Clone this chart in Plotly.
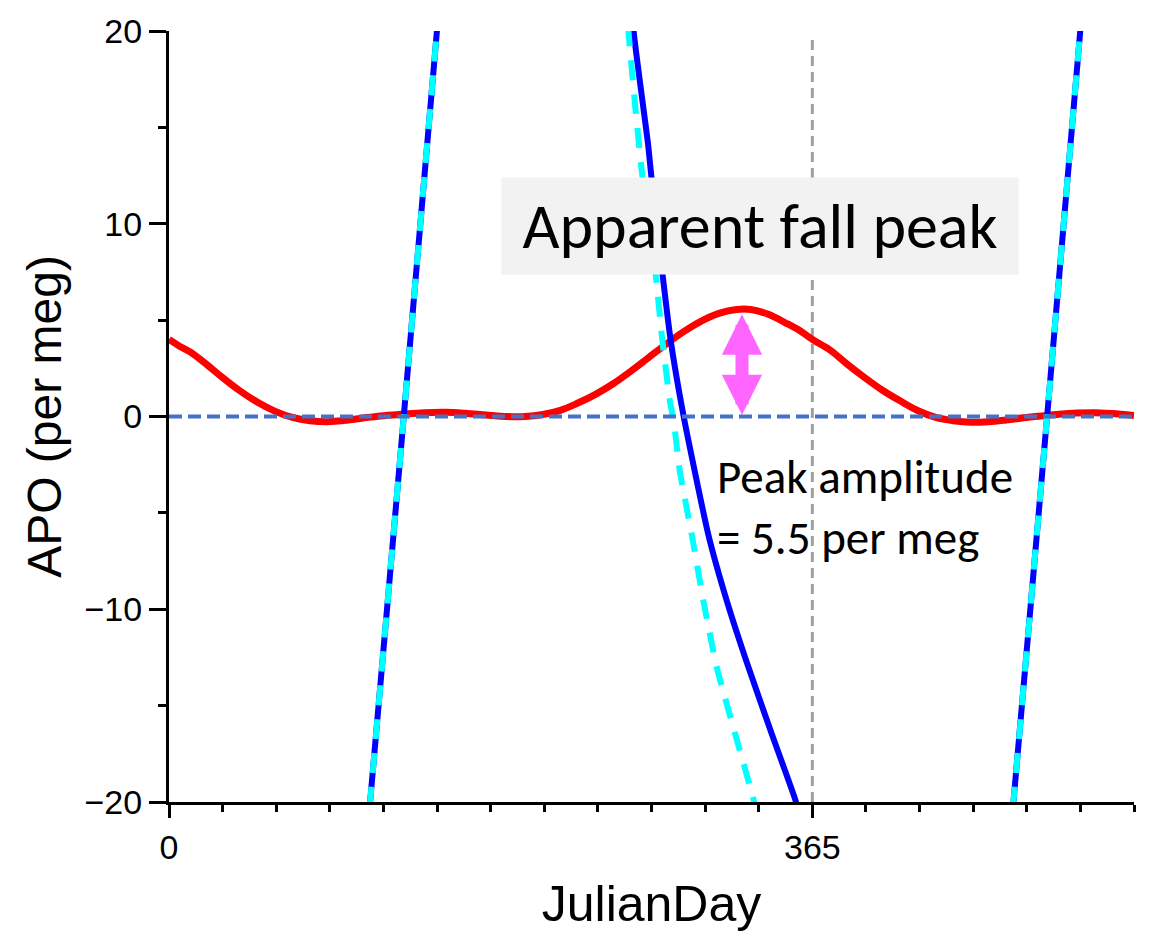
import plotly.graph_objects as go

# ---------------- data ----------------
# Red: APO seasonal signal (per meg) vs Julian day
red_day = [0, 6, 12, 20, 30, 40, 50, 60, 70, 80, 90, 100, 110, 120, 132, 145, 157, 168,
           180, 192, 202, 212, 222, 232, 242, 252, 262, 272, 282, 292, 302, 312, 322,
           330, 340, 350, 358, 365, 375, 385, 395, 405, 415, 425, 435, 445, 455, 465,
           475, 485, 495, 505, 515, 525, 535, 547.5]
red_apo = [4.0, 3.65, 3.35, 2.8, 2.05, 1.35, 0.75, 0.28, -0.05, -0.22, -0.27, -0.2,
           -0.08, 0.03, 0.12, 0.2, 0.22, 0.17, 0.08, 0.0, 0.0, 0.1, 0.32, 0.7, 1.15,
           1.7, 2.35, 3.05, 3.75, 4.4, 4.95, 5.35, 5.55, 5.55, 5.3, 4.85, 4.45, 4.0,
           3.45, 2.7, 2.0, 1.35, 0.8, 0.3, -0.05, -0.22, -0.3, -0.27, -0.18, -0.07,
           0.03, 0.12, 0.18, 0.2, 0.15, 0.05]

# Blue solid: large-amplitude component (three visible segments, gaps = None)
blue_day = [112.0, 114.1, 133.2, 152.0, 153.9, None,
            262.5, 263.6, 271.9, 274.0, 284.4, 292.0, 306.1, 316.6, 328.9, 342.1, 355.4, 358.5, None,
            477.0, 479.1, 498.2, 517.0, 518.9]
blue_apo = [-22, -20, 0, 20, 22, None,
            22, 20, 14.05, 12.15, 4.1, 0, -6.17, -9.6, -13.05, -16.5, -19.9, -21, None,
            -22, -20, 0, 20, 22]

# Cyan dashed: comparison component
cyan_day = [112.0, 114.1, 133.2, 152.0, 153.9, None,
            260.0, 260.7, 264.5, 268.3, 276.3, 279.7, 284.4, 286.3, 289.7, 296.7, 303.3,
            310.9, 321.3, 331.7, 334.0, None,
            477.0, 479.1, 498.2, 517.0, 518.9]
cyan_apo = [-22, -20, 0, 20, 22, None,
            22, 20, 16.1, 12.67, 7.2, 4.1, 0.67, -0.19, -2.76, -6.19, -9.62,
            -13.05, -16.5, -19.9, -21, None,
            -22, -20, 0, 20, 22]

x_tick_vals = [0, 365]
x_tick_text = ["0", "365"]
y_tick_vals = [-20, -10, 0, 10, 20]
x_range = [0, 547.5]
y_range = [-20, 20]

year_day = 365
vline_top = 19.7
peak_day = 325.1
peak_amp = 5.3

# ---------------- figure ----------------
fig = go.Figure()

fig.add_trace(go.Scatter(x=red_day, y=red_apo, mode="lines",
                         line=dict(color="#ff0000", width=7, shape="spline", smoothing=1.0),
                         showlegend=False, hoverinfo="skip"))
fig.add_trace(go.Scatter(x=blue_day, y=blue_apo, mode="lines",
                         line=dict(color="#0000ff", width=6, shape="spline", smoothing=0.5),
                         connectgaps=False, showlegend=False, hoverinfo="skip"))
fig.add_trace(go.Scatter(x=cyan_day, y=cyan_apo, mode="lines",
                         line=dict(color="#00ffff", width=6, dash="20px,14px",
                                   shape="spline", smoothing=0.5),
                         connectgaps=False, showlegend=False, hoverinfo="skip"))

# vertical gray dashed line at one year
fig.add_shape(type="line", xref="x", yref="y", x0=year_day, x1=year_day,
              y0=y_range[0], y1=vline_top, layer="below",
              line=dict(color="#a0a0a0", width=3, dash="10px,6px"))
# horizontal zero dashed line
fig.add_shape(type="line", xref="paper", yref="y", x0=0, x1=1, y0=0, y1=0,
              layer="above", line=dict(color="#4472c4", width=4, dash="13px,6px"))

tick_font = dict(family="Liberation Sans, Arial, sans-serif", size=34, color="black")
xtitle_font = dict(family="Liberation Sans, Arial, sans-serif", size=50, color="black")
ytitle_font = dict(family="Liberation Sans, Arial, sans-serif", size=48, color="black")

fig.update_layout(
    width=1150, height=941,
    margin=dict(l=169, r=16, t=24, b=139),
    paper_bgcolor="white", plot_bgcolor="white",
    showlegend=False,
    xaxis=dict(range=x_range, tickmode="array", tickvals=x_tick_vals, ticktext=x_tick_text,
               ticks="outside", ticklen=13, tickwidth=3, tickcolor="black",
               showline=True, linecolor="black", linewidth=3,
               showgrid=False, zeroline=False, tickfont=tick_font,
               minor=dict(tickmode="linear", tick0=0, dtick=365 / 12, ticks="outside",
                          ticklen=7, tickwidth=3, tickcolor="black", showgrid=False),
               title=dict(text="JulianDay", font=xtitle_font, standoff=22)),
    yaxis=dict(range=y_range, tickmode="array", tickvals=y_tick_vals,
               ticks="outside", ticklen=17, tickwidth=3, tickcolor="black",
               showline=True, linecolor="black", linewidth=3,
               showgrid=False, zeroline=False, tickfont=tick_font,
               minor=dict(tickmode="linear", tick0=0, dtick=5, ticks="outside",
                          ticklen=8, tickwidth=3, tickcolor="black", showgrid=False),
               title=dict(text="APO (per meg)", font=ytitle_font, standoff=8)),
)

calib = "Carlito, Lato, 'Open Sans', sans-serif"

fig.add_annotation(x=335.5, y=9.9, xref="x", yref="y", text="Apparent fall peak",
                   showarrow=False, xanchor="center", yanchor="middle",
                   width=516, height=96, bgcolor="#f2f2f2", borderpad=0,
                   font=dict(family=calib, size=64, color="black"))

fig.add_annotation(x=310.0, y=-4.7, xref="x", yref="y",
                   text="Peak amplitude<br>= 5.5 per meg",
                   showarrow=False, xanchor="left", yanchor="middle", align="left",
                   font=dict(family=calib, size=47, color="black"))

# magenta double-headed arrow showing the peak amplitude
fig.add_annotation(x=peak_day, y=peak_amp, ax=peak_day, ay=0,
                   xref="x", yref="y", axref="x", ayref="y", text="",
                   showarrow=True, arrowside="end+start",
                   arrowhead=2, startarrowhead=2, arrowsize=0.62, startarrowsize=0.62,
                   arrowwidth=13, arrowcolor="#ff66ff", standoff=0, startstandoff=0)

fig.write_html("out.html")
